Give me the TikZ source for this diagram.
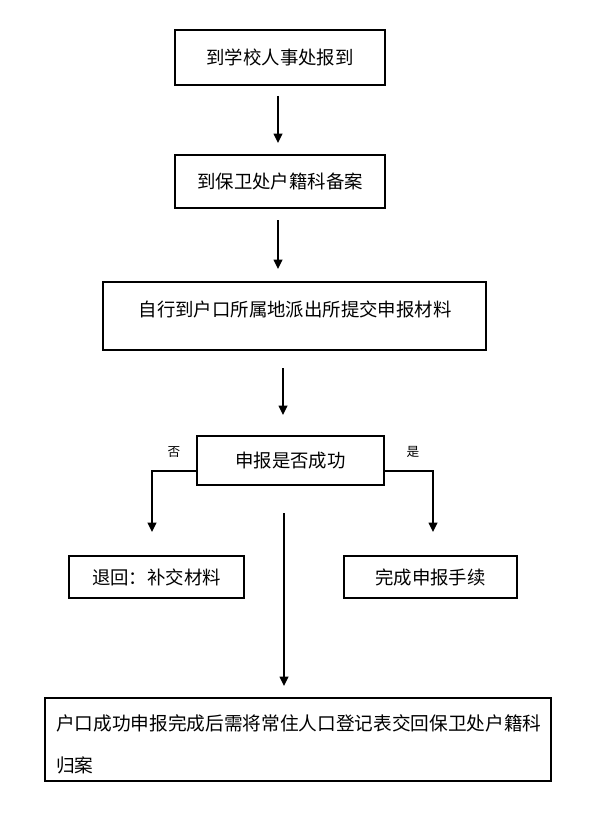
\documentclass[tikz,border=0pt]{standalone}
\usepackage{fontspec}
\setmainfont{Noto Sans CJK SC}
\usetikzlibrary{arrows.meta}
\begin{document}
\begin{tikzpicture}[x=0.75pt,y=-0.75pt,
  box/.style={draw, line width=0.8pt, inner sep=0pt},
  txt/.style={font=\fontsize{13.8pt}{16pt}\selectfont, inner sep=0pt},
  lbl/.style={font=\fontsize{9.5pt}{11pt}\selectfont, inner sep=0pt},
  arr/.style={line width=1.1pt, -{Triangle[length=7pt,width=6.5pt]}},
  ln/.style={line width=1.1pt}]
\useasboundingbox (0,0) rectangle (590,813);
\fill[white] (0,0) rectangle (590,813);
% boxes
\node[box, txt, minimum width=157.5pt, minimum height=41.25pt] (b1) at (280,57.5) {到学校人事处报到};
\node[box, txt, minimum width=157.5pt, minimum height=39.75pt] (b2) at (280,181.5) {到保卫处户籍科备案};
\node[box, minimum width=287.25pt, minimum height=51pt] (b3) at (294.5,316) {};
\node[txt] (b3t) at (295,309) {自行到户口所属地派出所提交申报材料};
\node[box, txt, minimum width=140.25pt, minimum height=36.75pt] (b4) at (290.5,460.5) {申报是否成功};
\node[box, txt, minimum width=131.25pt, minimum height=31.5pt] (b5) at (156.5,577) {退回：补交材料};
\node[box, txt, minimum width=129.75pt, minimum height=31.5pt] (b6) at (430.5,577) {完成申报手续};
\node[box, minimum width=379.5pt, minimum height=62.25pt] (b7) at (298,739.5) {};
\node[txt, font=\fontsize{14pt}{17pt}\selectfont, anchor=west] (b7a) at (56,723) {户口成功申报完成后需将常住人口登记表交回保卫处户籍科};
\node[txt, font=\fontsize{14pt}{17pt}\selectfont, anchor=west] (b7b) at (56,765) {归案};
% labels
\node[lbl] (no) at (174,452) {否};
\node[lbl] (yes) at (413,452) {是};
% arrow coordinates
\coordinate (a1s) at (278,96);  \coordinate (a1e) at (278,143);
\coordinate (a2s) at (278,220); \coordinate (a2e) at (278,269);
\coordinate (a3s) at (283,368); \coordinate (a3e) at (283,415);
\coordinate (dL) at (152,471);  \coordinate (dLe) at (152,532);
\coordinate (dR) at (433,471);  \coordinate (dRe) at (433,532);
\coordinate (a4s) at (284,513); \coordinate (a4e) at (284,686);
% connectors
\draw[arr] (a1s) -- (a1e);
\draw[arr] (a2s) -- (a2e);
\draw[arr] (a3s) -- (a3e);
\draw[arr] (b4.west |- dL) -- (dL) -- (dLe);
\draw[arr] (b4.east |- dR) -- (dR) -- (dRe);
\draw[arr] (a4s) -- (a4e);
\end{tikzpicture}
\end{document}
